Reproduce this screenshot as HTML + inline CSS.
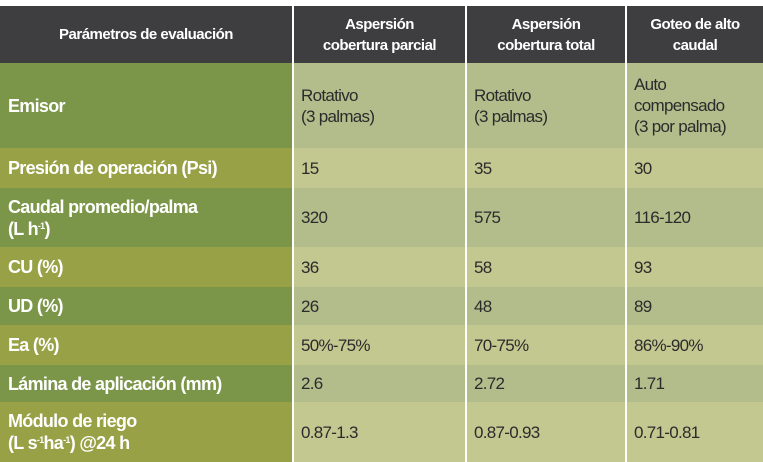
<!DOCTYPE html>
<html><head><meta charset="utf-8"><style>
body{margin:0;width:763px;height:462px;background:#fff;overflow:hidden;font-family:"Liberation Sans",sans-serif;}
.r{position:absolute;left:0;width:763px;}
.c{position:absolute;top:0;bottom:0;display:flex;align-items:center;box-sizing:border-box;}
.h .c{background:#3e3e40;color:#fff;font-weight:bold;font-size:15px;justify-content:center;text-align:center;letter-spacing:-0.5px;line-height:21px;}
.c1{left:0;width:292px;padding-left:8px;color:#fff;font-weight:bold;font-size:18px;letter-spacing:-0.7px;line-height:22px;}
.c2{left:294px;width:171px;padding-left:7px;}
.c3{left:467px;width:158px;padding-left:7px;}
.c4{left:627px;width:136px;padding-left:7px;}
.d .c2,.d .c3,.d .c4{color:#2b2b2b;font-size:17px;letter-spacing:-0.7px;line-height:21px;}
.a .c1{background:#7b9648}.a .c2,.a .c3,.a .c4{background:#b3bd8c}
.b .c1{background:#98a145}.b .c2,.b .c3,.b .c4{background:#c2c890}
sup{font-size:9px;vertical-align:6px;line-height:0}
</style></head><body>
<div class="r h" style="top:6px;height:57px">
<div class="c c1" style="justify-content:center;padding:0;font-size:15px;letter-spacing:-0.5px"><span>Parámetros de evaluación</span></div>
<div class="c c2" style="padding:0"><span>Aspersión<br>cobertura parcial</span></div>
<div class="c c3" style="padding:0"><span>Aspersión<br>cobertura total</span></div>
<div class="c c4" style="padding:0"><span>Goteo de alto<br>caudal</span></div>
</div>
<div class="r d a" style="top:63px;height:85px"><div class="c c1"><span>Emisor</span></div><div class="c c2"><span>Rotativo<br>(3 palmas)</span></div><div class="c c3"><span>Rotativo<br>(3 palmas)</span></div><div class="c c4"><span>Auto<br>compensado<br>(3 por palma)</span></div></div>
<div class="r d b" style="top:148px;height:40px"><div class="c c1"><span>Presión de operación (Psi)</span></div><div class="c c2"><span>15</span></div><div class="c c3"><span>35</span></div><div class="c c4"><span>30</span></div></div>
<div class="r d a" style="top:188px;height:59px"><div class="c c1"><span>Caudal promedio/palma<br>(L h<sup>-1</sup>)</span></div><div class="c c2"><span>320</span></div><div class="c c3"><span>575</span></div><div class="c c4"><span>116-120</span></div></div>
<div class="r d b" style="top:247px;height:40px"><div class="c c1"><span>CU (%)</span></div><div class="c c2"><span>36</span></div><div class="c c3"><span>58</span></div><div class="c c4"><span>93</span></div></div>
<div class="r d a" style="top:287px;height:38px"><div class="c c1"><span>UD (%)</span></div><div class="c c2"><span>26</span></div><div class="c c3"><span>48</span></div><div class="c c4"><span>89</span></div></div>
<div class="r d b" style="top:325px;height:40px"><div class="c c1"><span>Ea (%)</span></div><div class="c c2"><span>50%-75%</span></div><div class="c c3"><span>70-75%</span></div><div class="c c4"><span>86%-90%</span></div></div>
<div class="r d a" style="top:365px;height:37px"><div class="c c1"><span>Lámina de aplicación (mm)</span></div><div class="c c2"><span>2.6</span></div><div class="c c3"><span>2.72</span></div><div class="c c4"><span>1.71</span></div></div>
<div class="r d b" style="top:402px;height:60px"><div class="c c1"><span>Módulo de riego<br>(L s<sup>-1</sup>ha<sup>-1</sup>) @24 h</span></div><div class="c c2"><span>0.87-1.3</span></div><div class="c c3"><span>0.87-0.93</span></div><div class="c c4"><span>0.71-0.81</span></div></div>
</body></html>
